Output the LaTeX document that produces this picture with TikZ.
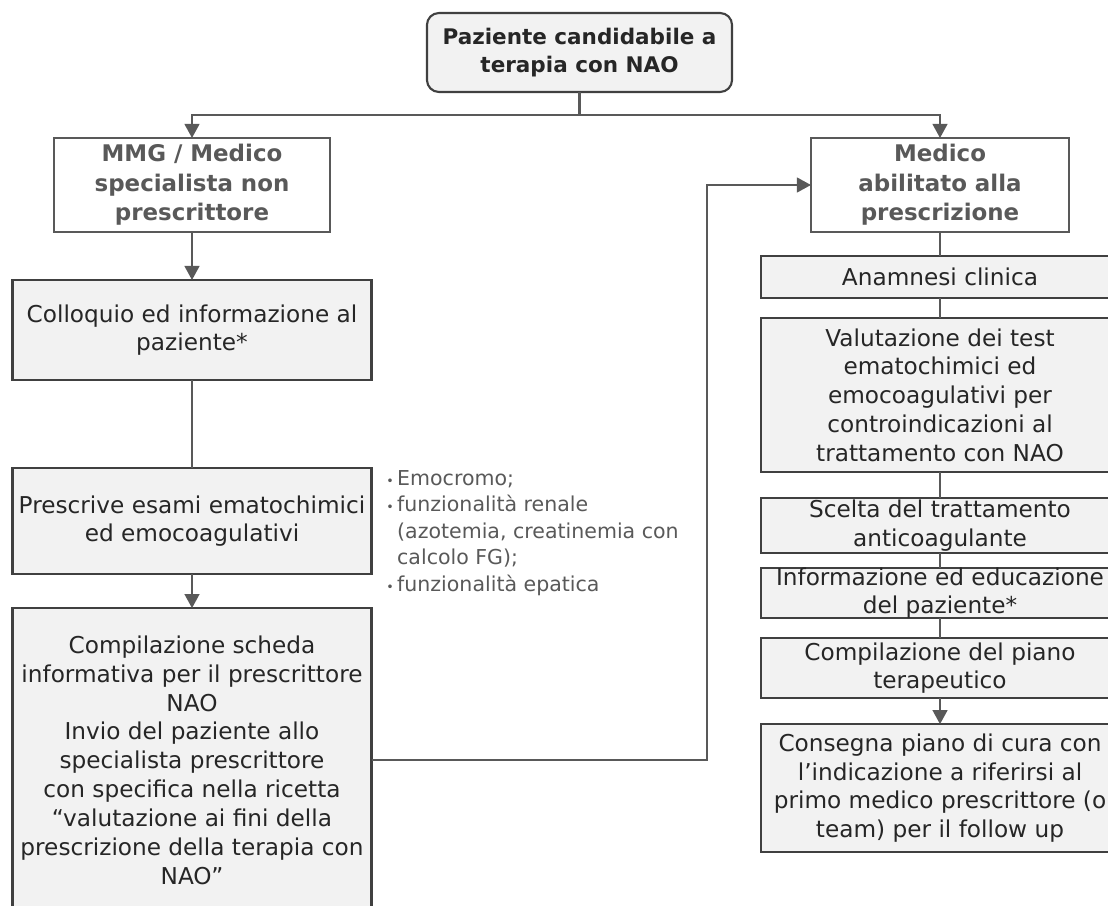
\documentclass[tikz,border=0pt]{standalone}
\usepackage{fontspec}
\setmainfont{DejaVu Sans}
\usepackage{xcolor}
\usepackage{tikz}
\usetikzlibrary{shapes,arrows,arrows.meta,positioning}

\definecolor{boxfill}{HTML}{F2F2F2}
\definecolor{boxline}{HTML}{404040}
\definecolor{headline}{HTML}{595959}
\definecolor{textdark}{HTML}{262626}
\definecolor{textgray}{HTML}{595959}

\begin{document}
\begin{tikzpicture}[x=0.025cm, y=-0.025cm]
    % Define styles
    \tikzstyle{startbox} = [rectangle, rounded corners=0.3cm, minimum width=7.625cm, minimum height=1.975cm, align=center, draw=boxline, line width=1.5pt, fill=boxfill, text=textdark, outer sep=0pt, font=\fontsize{15.3}{19.5}\selectfont\bfseries]
    \tikzstyle{headbox} = [rectangle, minimum height=2.35cm, align=center, draw=headline, line width=1.5pt, fill=white, text=textgray, outer sep=0pt, inner sep=1pt, font=\fontsize{16.3}{21}\selectfont\bfseries]
    \tikzstyle{stepbox} = [rectangle, align=center, draw=boxline, line width=1.5pt, fill=boxfill, text=textdark, outer sep=0pt, inner sep=1pt, font=\fontsize{16.5}{20.5}\selectfont]
    \tikzstyle{leftstep} = [stepbox, minimum width=8.975cm]
    \tikzstyle{rightstep} = [stepbox, minimum width=8.95cm]
    \tikzstyle{notes} = [align=left, text=textgray, inner sep=0pt, font=\fontsize{14.6}{18.8}\selectfont]
    \tikzstyle{connector} = [draw=headline, line width=1.5pt]
    \tikzstyle{arrowline} = [connector, -{Triangle[width=10.5pt,length=10pt]}]

    \useasboundingbox (0,0) rectangle (1108,905);

    % Nodes
    \node[startbox] (candidate) at (579.5,52.5) {Paziente candidabile a\\terapia con NAO};
    \coordinate[below=0.575cm of candidate] (split);

    \node[headbox, minimum width=6.9cm] (mmg) at (192,185) {MMG / Medico\\specialista non\\prescrittore};
    \node[leftstep, minimum height=2.5cm, below=1.2cm of mmg] (colloquio) {Colloquio ed informazione al\\paziente*};
    \node[leftstep, minimum height=2.65cm, below=2.2cm of colloquio] (prescribe_tests) {Prescrive esami ematochimici\\ed emocoagulativi};
    \node[leftstep, minimum height=7.6cm, below=0.85cm of prescribe_tests] (referral_form) {Compilazione scheda\\informativa per il prescrittore\\NAO\\Invio del paziente allo\\specialista prescrittore\\con specifica nella ricetta\\“valutazione ai fini della\\prescrizione della terapia con\\NAO”};
    \node[notes, anchor=north west] (tests_list) at (386,470) {{\small•}\,Emocromo;\\{\small•}\,funzionalità renale\\\phantom{{\small•}\,}(azotemia, creatinemia con\\\phantom{{\small•}\,}calcolo FG);\\{\small•}\,funzionalità epatica};
    \coordinate (bend) at (707,185);

    \node[headbox, minimum width=6.45cm] (prescriber) at (940,185) {Medico\\abilitato alla\\prescrizione};
    \node[rightstep, minimum height=1.05cm, below=0.6cm of prescriber] (history) {Anamnesi clinica};
    \node[rightstep, minimum height=3.85cm, below=0.5cm of history] (lab_review) {Valutazione dei test\\ematochimici ed\\emocoagulativi per\\controindicazioni al\\trattamento con NAO};
    \node[rightstep, minimum height=1.375cm, inner ysep=0pt, below=0.65cm of lab_review] (choose_treatment) {Scelta del trattamento\\anticoagulante};
    \node[rightstep, minimum height=1.25cm, inner ysep=-1pt, below=0.375cm of choose_treatment] (patient_education) {Informazione ed educazione\\del paziente*};
    \node[rightstep, minimum height=1.5cm, inner ysep=0pt, below=0.5cm of patient_education] (therapy_plan) {Compilazione del piano\\terapeutico};
    \node[rightstep, minimum height=3.2cm, below=0.65cm of therapy_plan] (care_plan) {Consegna piano di cura con\\l’indicazione a riferirsi al\\primo medico prescrittore (o\\team) per il follow up};

    % Connections
    \draw[connector] (candidate) -- (split);
    \draw[arrowline] (split) -| (mmg);
    \draw[arrowline] (split) -| (prescriber);
    \draw[arrowline] (mmg) -- (colloquio);
    \draw[connector] (colloquio) -- (prescribe_tests);
    \draw[arrowline] (prescribe_tests) -- (referral_form);
    \draw[arrowline] (referral_form) -| (bend) -- (prescriber);
    \draw[connector] (prescriber) -- (history);
    \draw[connector] (history) -- (lab_review);
    \draw[connector] (lab_review) -- (choose_treatment);
    \draw[connector] (choose_treatment) -- (patient_education);
    \draw[connector] (patient_education) -- (therapy_plan);
    \draw[arrowline] (therapy_plan) -- (care_plan);
\end{tikzpicture}
\end{document}
